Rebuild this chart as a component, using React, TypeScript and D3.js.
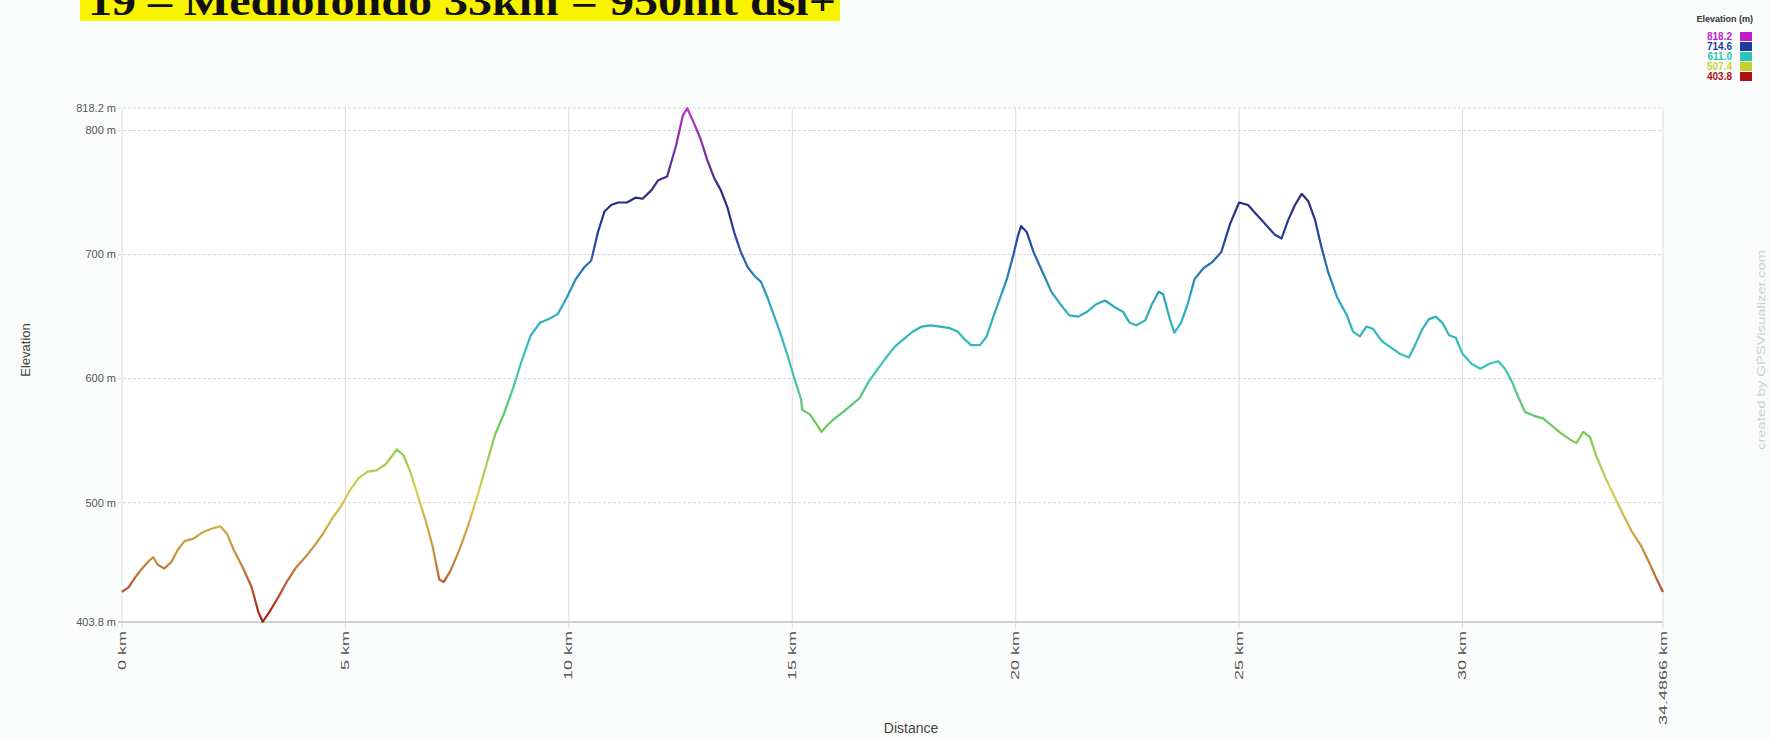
import React from "react";
import * as d3 from "d3";

const distanceKm = [
  0.0, 0.15, 0.3, 0.45, 0.6, 0.7, 0.8, 0.95, 1.1, 1.25, 1.4, 1.6, 1.8, 2.0, 2.2, 2.35, 2.5, 2.7, 2.9, 3.05,
  3.15, 3.3, 3.5, 3.7, 3.9, 4.1, 4.3, 4.5, 4.7, 4.9, 5.1, 5.3, 5.5, 5.7, 5.9, 6.05, 6.15, 6.3, 6.45, 6.6,
  6.8, 6.95, 7.1, 7.2, 7.35, 7.55, 7.75, 7.95, 8.15, 8.35, 8.55, 8.75, 8.95, 9.15, 9.35, 9.55, 9.75, 9.95, 10.15, 10.35,
  10.5, 10.65, 10.8, 10.95, 11.1, 11.3, 11.5, 11.65, 11.85, 12.0, 12.2, 12.4, 12.55, 12.65, 12.8, 12.95, 13.1, 13.25, 13.4, 13.55,
  13.7, 13.85, 14.0, 14.15, 14.3, 14.45, 14.6, 14.75, 14.9, 15.05, 15.2, 15.22, 15.4, 15.55, 15.65, 15.8, 15.95, 16.1, 16.3, 16.5,
  16.7, 16.9, 17.1, 17.3, 17.5, 17.7, 17.9, 18.1, 18.3, 18.5, 18.7, 18.85, 19.0, 19.2, 19.35, 19.5, 19.65, 19.8, 19.95, 20.05,
  20.12, 20.25, 20.4, 20.6, 20.8, 21.0, 21.2, 21.4, 21.6, 21.8, 22.0, 22.2, 22.4, 22.55, 22.7, 22.9, 23.05, 23.2, 23.3, 23.45,
  23.55, 23.7, 23.85, 24.0, 24.2, 24.4, 24.6, 24.8, 25.0, 25.2, 25.4, 25.6, 25.8, 25.95, 26.1, 26.25, 26.4, 26.55, 26.7, 26.85,
  27.0, 27.2, 27.4, 27.55, 27.7, 27.85, 28.0, 28.2, 28.4, 28.6, 28.8, 28.95, 29.1, 29.25, 29.4, 29.55, 29.7, 29.85, 30.0, 30.2,
  30.4, 30.6, 30.8, 30.95, 31.1, 31.25, 31.4, 31.6, 31.8, 32.0, 32.2, 32.4, 32.55, 32.7, 32.85, 33.0, 33.2, 33.4, 33.6, 33.8,
  34.0, 34.2, 34.35, 34.4866,
];

const elevationM = [
  428, 432, 440, 447, 453, 456, 450, 447, 452, 462, 469, 471, 476, 479, 481, 475, 462, 448, 432, 412,
  404, 412, 424, 437, 448, 456, 465, 475, 487, 497, 510, 520, 525, 526, 531, 538, 543, 538, 525, 508,
  485, 465, 438, 436, 445, 462, 482, 505, 530, 555, 572, 592, 615, 635, 645, 648, 652, 665, 680, 690,
  695, 718, 735, 740, 742, 742, 746, 745, 752, 760, 763, 788, 812, 818, 806, 793, 776, 762, 752, 738,
  718, 702, 690, 683, 678, 665, 650, 635, 618, 600, 583, 575, 571, 563, 557, 563, 568, 572, 578, 584,
  597, 607, 617, 626, 632, 638, 642, 643, 642, 641, 638, 632, 627, 627, 634, 650, 665, 680, 700, 715,
  723, 718, 702, 686, 670, 660, 651, 650, 654, 660, 663, 658, 654, 645, 643, 647, 660, 670, 668, 648,
  637, 645, 660, 680, 689, 694, 702, 725, 742, 740, 732, 724, 716, 713, 728, 740, 749, 743, 728, 705,
  685, 665, 652, 638, 634, 642, 640, 630, 625, 620, 617, 628, 640, 648, 650, 645, 635, 633, 620, 612,
  608, 612, 614, 608, 598, 585, 573, 570, 568, 562, 556, 551, 548, 557, 553, 537, 520, 505, 490, 476,
  465, 450, 438, 428,
];

const yTickValues = [403.8, 500, 600, 700, 800, 818.2];
const yTickLabels = ["403.8 m", "500 m", "600 m", "700 m", "800 m", "818.2 m"];
const xTickValues = [0, 5, 10, 15, 20, 25, 30, 34.4866];
const xTickLabels = ["0 km", "5 km", "10 km", "15 km", "20 km", "25 km", "30 km", "34.4866 km"];

const legendValues = [818.2, 714.6, 611.0, 507.4, 403.8];
const legendLabels = ["818.2", "714.6", "611.0", "507.4", "403.8"];
const legendColors = ["#c01ec8", "#1e3c9c", "#28c4b4", "#c8d030", "#b01010"];

const titleText = "19 – Mediofondo 33km = 950mt dsl+";

export default function App() {
  const W = 1770;
  const H = 739;
  const left = 122;
  const right = 1663;
  const top = 108;
  const bottom = 622;

  const x = d3.scaleLinear().domain([0, 34.4866]).range([left, right]);
  const y = d3.scaleLinear().domain([403.8, 818.2]).range([bottom, top]);

  const pts: [number, number][] = distanceKm.map((d, i) => [d, elevationM[i]]);
  const line = d3
    .line<[number, number]>()
    .x((d) => x(d[0]))
    .y((d) => y(d[1]))
    .curve(d3.curveLinear);

  // gradient colours by elevation (line colour follows the legend ramp)
  const rampValues = [403.8, 455.6, 507.4, 559.2, 611.0, 662.8, 714.6, 745, 818.2];
  const rampColors = ["#a81818", "#c88a3a", "#d8cc50", "#6ccc50", "#38c4b8", "#28a8c0", "#2440a0", "#2a2a78", "#c82cc8"];
  const colorScale = d3
    .scaleLinear<string>()
    .domain(rampValues)
    .range(rampColors)
    .interpolate(d3.interpolateRgb);

  const stops = d3.range(0, 1.0001, 0.025).map((t) => {
    const v = 403.8 + t * (818.2 - 403.8);
    return { off: t, color: colorScale(v) };
  });

  const font = "Arial, 'Liberation Sans', sans-serif";

  return (
    <svg
      width={W}
      height={H}
      style={{ position: "absolute", left: 0, top: 0, background: "#fafcfc" }}
    >
      <defs>
        <linearGradient
          id="elevGrad"
          gradientUnits="userSpaceOnUse"
          x1={0}
          x2={0}
          y1={y(403.8)}
          y2={y(818.2)}
        >
          {stops.map((s, i) => (
            <stop key={i} offset={s.off} stopColor={s.color} />
          ))}
        </linearGradient>
      </defs>

      {/* title */}
      <rect x={80} y={0} width={760} height={21} fill="#f8f400" />
      <text
        x={88}
        y={15}
        fontFamily="'Liberation Serif', 'Times New Roman', serif"
        fontWeight="bold"
        fontSize={40}
        fill="#111"
        textLength={748}
        lengthAdjust="spacingAndGlyphs"
      >
        {titleText}
      </text>

      {/* plot area */}
      <rect x={left} y={top} width={right - left} height={bottom - top} fill="#ffffff" />

      {/* vertical grid */}
      {xTickValues.map((v, i) => (
        <line
          key={"vx" + i}
          x1={x(v)}
          x2={x(v)}
          y1={top}
          y2={bottom + 6}
          stroke="#dcdcdc"
          strokeWidth={1}
        />
      ))}

      {/* horizontal grid */}
      {yTickValues.map((v, i) => (
        <line
          key={"hy" + i}
          x1={left - 4}
          x2={right}
          y1={y(v)}
          y2={y(v)}
          stroke={v === 403.8 ? "#d0d0d0" : "#d4d4d4"}
          strokeWidth={v === 403.8 ? 2 : 1}
          strokeDasharray={v === 403.8 ? undefined : "3,2"}
        />
      ))}

      {/* y labels */}
      {yTickValues.map((v, i) => (
        <text
          key={"yl" + i}
          x={left - 6}
          y={y(v)}
          dy="0.35em"
          textAnchor="end"
          fontFamily={font}
          fontSize={11}
          fill="#555"
        >
          {yTickLabels[i]}
        </text>
      ))}

      {/* x labels (elongated along their length, as in the reference) */}
      {xTickValues.map((v, i) => (
        <text
          key={"xl" + i}
          transform={`translate(${x(v)},${bottom + 9}) rotate(-90) scale(1.8,1)`}
          dy="0.35em"
          textAnchor="end"
          fontFamily={font}
          fontSize={10}
          fill="#555"
        >
          {xTickLabels[i]}
        </text>
      ))}

      {/* axis titles */}
      <text
        transform={`translate(30,350) rotate(-90)`}
        textAnchor="middle"
        fontFamily={font}
        fontSize={13}
        fill="#444"
      >
        Elevation
      </text>
      <text
        x={911}
        y={733}
        textAnchor="middle"
        fontFamily={font}
        fontSize={14}
        fill="#444"
      >
        Distance
      </text>

      {/* profile line */}
      <path d={line(pts) || ""} fill="none" stroke="url(#elevGrad)" strokeWidth={2.2} strokeLinejoin="round" />

      {/* legend */}
      <text
        x={1753}
        y={22}
        textAnchor="end"
        fontFamily={font}
        fontWeight="bold"
        fontSize={9}
        fill="#333"
      >
        Elevation (m)
      </text>
      {legendValues.map((v, i) => (
        <g key={"lg" + i}>
          <text
            x={1732}
            y={36 + i * 10}
            dy="0.35em"
            textAnchor="end"
            fontFamily={font}
            fontWeight="bold"
            fontSize={10}
            fill={legendColors[i]}
          >
            {legendLabels[i]}
          </text>
          <rect x={1740} y={32 + i * 10} width={12} height={9} fill={legendColors[i]} />
        </g>
      ))}

      {/* credit */}
      <text
        transform={`translate(1765,350) rotate(-90)`}
        textAnchor="middle"
        fontFamily={font}
        fontSize={10}
        fill="#cfcfcf"
        textLength={200}
        lengthAdjust="spacingAndGlyphs"
      >
        created by GPSVisualizer.com
      </text>
    </svg>
  );
}
